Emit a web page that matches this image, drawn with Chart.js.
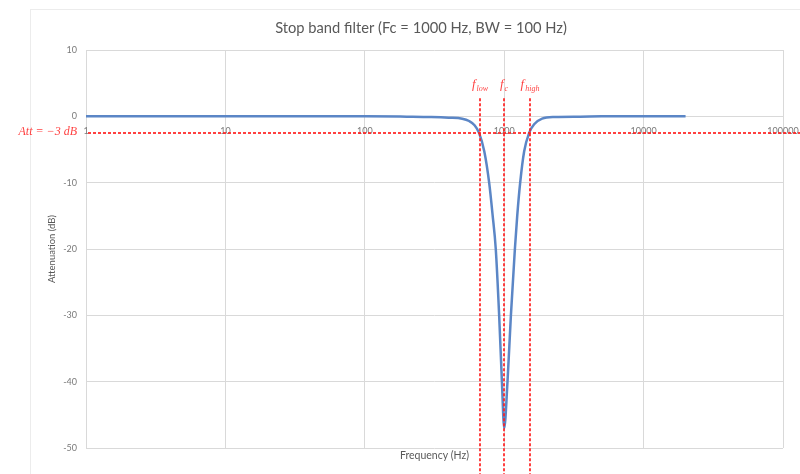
<!DOCTYPE html>
<html><head><meta charset="utf-8">
<script src="https://cdn.jsdelivr.net/npm/chart.js@4.4.0/dist/chart.umd.min.js"></script>
<style>html,body{margin:0;padding:0;background:#fff;overflow:hidden}#wrap{width:800px;height:474px;position:relative}</style>
</head><body><div id="wrap"><canvas id="c" width="800" height="474"></canvas></div>
<script>
const chartTitle = 'Stop band filter (Fc = 1000 Hz, BW = 100 Hz)';
const xAxisTitle = 'Frequency (Hz)';
const yAxisTitle = 'Attenuation (dB)';
const freqHz = [1, 10, 100, 200, 300, 400, 500, 560, 610, 660, 720, 780, 825, 870, 920, 963, 1000, 1056, 1117, 1193, 1240, 1302, 1390, 1510, 1640, 1870, 2300, 3500, 5000, 10000, 20000];
const attenuationDb = [0, 0, 0, -0.05, -0.1, -0.2, -0.35, -0.7, -1.3, -2.5, -5.3, -10, -14.8, -20, -30, -40, -47, -40, -30, -20, -15, -10, -5.3, -2.5, -1.2, -0.35, -0.1, -0.05, 0, 0, 0];
const xTickValues = [1, 10, 100, 1000, 10000, 100000];
const yTickValues = [-50, -40, -30, -20, -10, 0, 10];
const markerFreqs = [673, 1000, 1535];
const markerNames = [['f', 'low'], ['f', 'c'], ['f', 'high']];
const attLevelDb = -2.5;
const attLabel = 'Att = \u22123 dB';

const GRID = '#d9d9d9';
const TXT = '#7a7a7a';

const overlay = {
  id: 'overlay',
  beforeDraw(chart) {
    const ctx = chart.ctx;
    ctx.save();
    ctx.fillStyle = '#fff';
    ctx.fillRect(0, 0, chart.width, chart.height);
    ctx.strokeStyle = '#ececec';
    ctx.lineWidth = 1;
    ctx.strokeRect(30.5, 9.5, 800, 500);
    ctx.fillStyle = '#595959';
    ctx.font = '14.7px Lato';
    ctx.textAlign = 'center';
    ctx.textBaseline = 'middle';
    ctx.fillText(chartTitle, 421, 28);
    ctx.restore();
  },
  afterDraw(chart) {
    const ctx = chart.ctx, xs = chart.scales.x, ys = chart.scales.y;
    const red = 'rgba(255,30,30,0.85)';
    ctx.save();
    ctx.strokeStyle = red;
    ctx.lineWidth = 2;
    ctx.setLineDash([3, 2]);
    const yAtt = ys.getPixelForValue(attLevelDb);
    ctx.beginPath();
    ctx.moveTo(xs.left + 2, yAtt);
    ctx.lineTo(chart.width, yAtt);
    ctx.stroke();
    const yTop = ys.getPixelForValue(0) - 18;
    markerFreqs.forEach((f, i) => {
      const px = Math.round(xs.getPixelForValue(f));
      ctx.beginPath();
      ctx.moveTo(px, yTop);
      ctx.lineTo(px, chart.height);
      ctx.stroke();
      const [base, sub] = markerNames[i];
      ctx.fillStyle = red;
      ctx.textBaseline = 'alphabetic';
      ctx.textAlign = 'left';
      ctx.font = 'italic 13px "Liberation Serif"';
      const wb = ctx.measureText(base).width;
      ctx.font = 'italic 8px "Liberation Serif"';
      const ws = ctx.measureText(sub).width;
      const x0 = px - (wb + ws + 1) / 2;
      ctx.font = 'italic 13px "Liberation Serif"';
      ctx.fillText(base, x0, yTop - 10);
      ctx.font = 'italic 8px "Liberation Serif"';
      ctx.fillText(sub, x0 + wb + 1, yTop - 7);
    });
    ctx.setLineDash([]);
    ctx.fillStyle = red;
    ctx.font = 'italic 12px "Liberation Serif"';
    ctx.textAlign = 'right';
    ctx.textBaseline = 'middle';
    ctx.fillText(attLabel, 77, yAtt - 1);
    ctx.restore();
  }
};

new Chart(document.getElementById('c'), {
  type: 'line',
  data: {
    datasets: [{
      data: freqHz.map((f, i) => ({x: f, y: attenuationDb[i]})),
      borderColor: '#5b86c6',
      borderWidth: 2.5,
      pointRadius: 0,
      cubicInterpolationMode: 'monotone',
      xAxisID: 'x', yAxisID: 'y'
    }]
  },
  options: {
    responsive: false,
    animation: false,
    events: [],
    layout: {padding: {top: 50, left: 30, right: 17, bottom: 0}},
    plugins: {legend: {display: false}, title: {display: false}, tooltip: {enabled: false}},
    scales: {
      x: {
        type: 'logarithmic', min: 1, max: 100000,
        position: {y: 0},
        afterBuildTicks: s => { s.ticks = xTickValues.map(v => ({value: v})); },
        afterFit: s => { s.paddingLeft = 0; s.paddingRight = 0; },
        ticks: {callback: v => String(v), autoSkip: false, maxRotation: 0, padding: 9, color: TXT, font: {family: 'Lato', size: 9}},
        grid: {color: GRID, drawTicks: false},
        border: {display: true, color: GRID}
      },
      x2: {
        type: 'logarithmic', min: 1, max: 100000, position: 'bottom',
        ticks: {display: false}, grid: {display: false}, border: {display: false},
        title: {display: true, text: xAxisTitle, color: '#595959', font: {family: 'Lato', size: 10.5}, padding: {top: 0, bottom: 12}},
        afterFit: s => { s.height = 26; s.paddingLeft = 0; s.paddingRight = 0; }
      },
      y: {
        type: 'linear', min: -50, max: 10,
        afterBuildTicks: s => { s.ticks = yTickValues.map(v => ({value: v})); },
        ticks: {padding: 9, color: TXT, font: {family: 'Lato', size: 9}},
        grid: {color: GRID, drawTicks: false},
        border: {display: false},
        title: {display: true, text: yAxisTitle, color: '#595959', font: {family: 'Lato', size: 9.5}, padding: {top: 16, bottom: 0}},
        afterFit: s => { s.width = 56; }
      }
    }
  },
  plugins: [overlay]
});
</script></body></html>
